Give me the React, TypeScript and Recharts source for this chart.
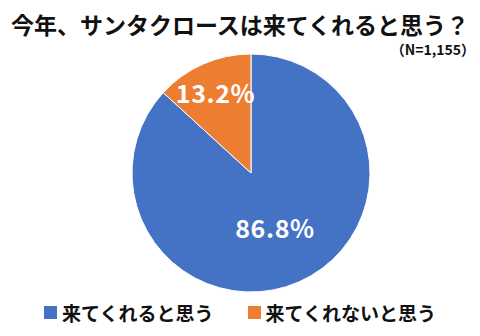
import { PieChart, Pie, Cell, Legend } from 'recharts';

const categories = ['来てくれると思う', '来てくれないと思う'];
const shares = [86.8, 13.2];
const colors = ['#4472C4', '#ED7D31'];
const title = '今年、サンタクロースは来てくれると思う？';
const sampleNote = '（N=1,155）';

const data = categories.map((name, i) => ({ name, value: shares[i] }));

const FONT = '"Noto Sans CJK JP", "Noto Sans", sans-serif';
const RAD = Math.PI / 180;

function renderLabel(props: any) {
  const { cx, cy, midAngle, outerRadius, value } = props;
  const r = outerRadius * (value < 50 ? 0.74 : 0.5);
  const x = cx + r * Math.cos(-midAngle * RAD);
  const y = cy + r * Math.sin(-midAngle * RAD);
  return (
    <text
      x={x}
      y={y}
      fill="#fff"
      textAnchor="middle"
      dominantBaseline="central"
      fontFamily={FONT}
      fontWeight={700}
      fontSize={25}
      letterSpacing={0.6}
    >
      {value.toFixed(1)}%
    </text>
  );
}

function LegendContent() {
  return (
    <div style={{ display: 'flex', justifyContent: 'center', gap: 34, fontFamily: FONT }}>
      {data.map((d, i) => (
        <div key={d.name} style={{ display: 'flex', alignItems: 'center' }}>
          <span style={{ width: 13, height: 13, background: colors[i], marginRight: 5, display: 'inline-block' }} />
          <span style={{ fontSize: 19, fontWeight: 700, color: '#111' }}>{d.name}</span>
        </div>
      ))}
    </div>
  );
}

export default function App() {
  return (
    <div style={{ position: 'absolute', left: 0, top: 0, width: 480, height: 336, background: '#fff' }}>
      <div
        style={{
          position: 'absolute', left: 0, top: 11, width: 480, textAlign: 'center',
          fontFamily: FONT, fontWeight: 700, fontSize: 23, lineHeight: '27px', color: '#111',
        }}
      >
        {title}
      </div>
      <div
        style={{
          position: 'absolute', right: 5, top: 42, fontFamily: FONT, fontWeight: 700,
          fontSize: 14, lineHeight: '14px', color: '#111',
        }}
      >
        {sampleNote}
      </div>
      <PieChart width={480} height={336}>
        <Pie
          data={data}
          dataKey="value"
          nameKey="name"
          cx={246}
          cy={168}
          outerRadius={119}
          startAngle={90}
          endAngle={-270}
          stroke="#fff"
          strokeWidth={1}
          label={renderLabel}
          labelLine={false}
          isAnimationActive={false}
        >
          {data.map((d, i) => (
            <Cell key={d.name} fill={colors[i]} />
          ))}
        </Pie>
        <Legend
          verticalAlign="bottom"
          content={LegendContent}
          wrapperStyle={{ bottom: 10, left: 0, width: 480 }}
        />
      </PieChart>
    </div>
  );
}
